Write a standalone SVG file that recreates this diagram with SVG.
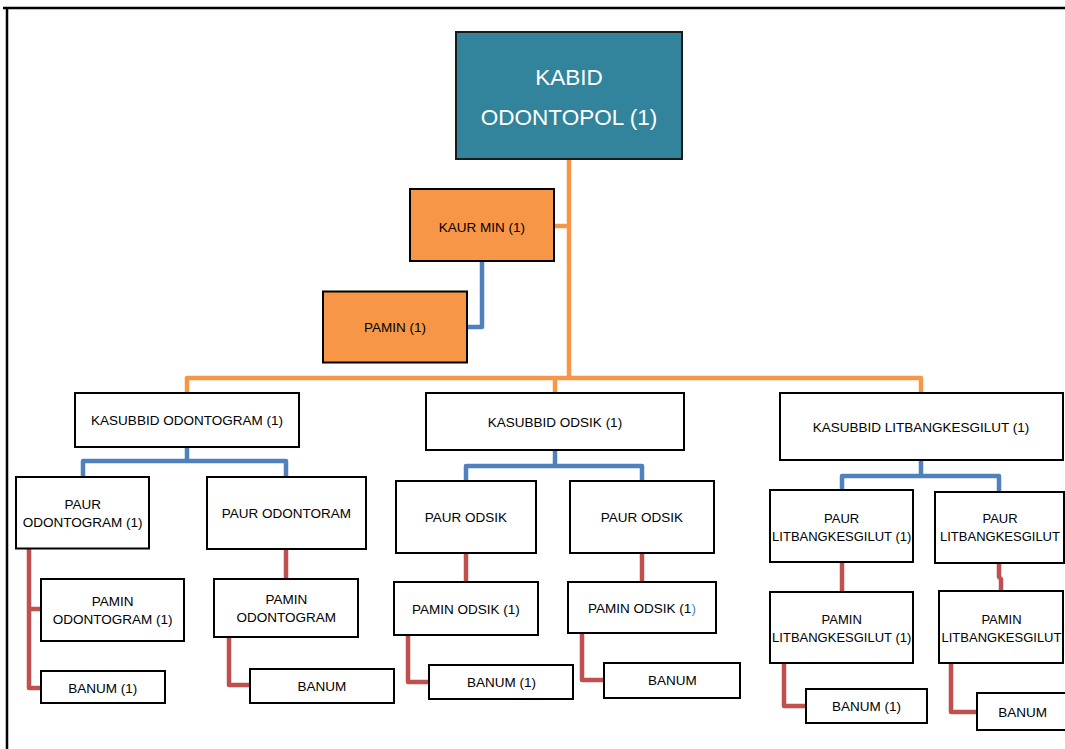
<svg xmlns="http://www.w3.org/2000/svg" width="1065" height="749" viewBox="0 0 1065 749">
<style>
.box{fill:#fff;stroke:#000;stroke-width:2}
.org{fill:#F79646;stroke:#000;stroke-width:2}
.teal{fill:#31849B;stroke:#1a1a1a;stroke-width:2}
text{font-family:"Liberation Sans",Arial,sans-serif;font-size:13.5px;fill:#000;text-anchor:middle}
.big{font-size:22.5px;fill:#fff}
.sm{font-size:13px}
.c{fill:none;stroke-width:4.5;stroke-linejoin:round;stroke-linecap:butt}
.o{stroke:#F79646}
.b{stroke:#4F81BD}
.r{stroke:#C0504D}
</style>
<rect width="1065" height="749" fill="#fff"/>
<g id="frame"><path d="M3,8 H1065 M7,8 V749" fill="none" stroke="#000" stroke-width="2.5"/></g>
<g id="connectors">
<path class="c o" d="M569,159 V378"/>
<path class="c o" d="M554,226 H569"/>
<path class="c o" d="M187,393 V378 H921 V393"/>
<path class="c o" d="M555,378 V393"/>
<path class="c b" d="M482,261 V327 H467"/>
<path class="c b" d="M187,447 V461"/>
<path class="c b" d="M83,477 V461 H286 V477"/>
<path class="c b" d="M555,450 V466"/>
<path class="c b" d="M466,481 V466 H642 V481"/>
<path class="c b" d="M921,460 V476"/>
<path class="c b" d="M842,490 V476 H999 V492"/>
<path class="c r" d="M41,609 H29 V548 M29,609 V688 H41"/>
<path class="c r" d="M286,549 V579"/>
<path class="c r" d="M229,637 V685 H250"/>
<path class="c r" d="M466,553 V582"/>
<path class="c r" d="M408,635 V682 H429"/>
<path class="c r" d="M642,553 V582"/>
<path class="c r" d="M582,633 V680 H604"/>
<path class="c r" d="M842,562 V592"/>
<path class="c r" d="M999,563 V577 L1001,579 V591"/>
<path class="c r" d="M784,663 V706 H806"/>
<path class="c r" d="M951,663 V712 H977"/>
</g>
<g id="kabid"><rect class="teal" x="456" y="32" width="226" height="127"/><text class="big" x="569" y="85">KABID</text><text class="big" x="569" y="124.7">ODONTOPOL (1)</text></g>
<g id="kaurmin"><rect class="org" x="410" y="189" width="144" height="72"/><text x="482" y="231.5">KAUR MIN (1)</text></g>
<g id="pamin"><rect class="org" x="323" y="291.5" width="144" height="71"/><text x="395" y="331.8">PAMIN (1)</text></g>
<g id="kasubbid-odontogram"><rect class="box" x="75" y="393" width="224" height="54"/><text x="187" y="424.8">KASUBBID ODONTOGRAM (1)</text></g>
<g id="kasubbid-odsik"><rect class="box" x="426" y="393" width="258" height="57"/><text x="555" y="426.8">KASUBBID ODSIK (1)</text></g>
<g id="kasubbid-litbang"><rect class="box" x="780" y="393" width="283" height="67"/><text x="921" y="431.8">KASUBBID LITBANGKESGILUT (1)</text></g>
<g id="paur-odontogram-1"><rect class="box" x="16" y="477" width="133" height="71.5"/><text x="82.7" y="508.8">PAUR</text><text x="82.7" y="526.5">ODONTOGRAM (1)</text></g>
<g id="paur-odontoram"><rect class="box" x="207" y="477" width="159" height="72"/><text x="286.3" y="518.1">PAUR ODONTORAM</text></g>
<g id="pamin-odontogram-1"><rect class="box" x="41" y="579" width="143" height="62"/><text x="112.7" y="605.8">PAMIN</text><text x="112.7" y="623.8">ODONTOGRAM (1)</text></g>
<g id="banum-1a"><rect class="box" x="41" y="671" width="124" height="32"/><text x="102.8" y="692.8">BANUM (1)</text></g>
<g id="pamin-odontogram"><rect class="box" x="214" y="579" width="144" height="58"/><text x="286.3" y="604.1">PAMIN</text><text x="286.3" y="621.5">ODONTOGRAM</text></g>
<g id="banum-a"><rect class="box" x="250" y="669" width="144" height="34"/><text x="322" y="690.8">BANUM</text></g>
<g id="paur-odsik-1"><rect class="box" x="396" y="481" width="140" height="72"/><text x="465.8" y="521.5">PAUR ODSIK</text></g>
<g id="paur-odsik-2"><rect class="box" x="570" y="481" width="144" height="72"/><text x="641.8" y="521.5">PAUR ODSIK</text></g>
<g id="pamin-odsik-1"><rect class="box" x="394" y="582" width="144" height="53"/><text x="465.8" y="613.8">PAMIN ODSIK (1)</text></g>
<g id="banum-1b"><rect class="box" x="429" y="665" width="144" height="34"/><text x="501.5" y="687.1">BANUM (1)</text></g>
<g id="pamin-odsik-2"><rect class="box" x="568" y="582" width="148" height="51"/><text x="642" y="612.8">PAMIN ODSIK (1<tspan fill="#4F81BD">)</tspan></text></g>
<g id="banum-b"><rect class="box" x="604" y="663" width="136" height="35"/><text x="672.5" y="684.8">BANUM</text></g>
<g id="paur-litbang-1"><rect class="box" x="770" y="490" width="143" height="72"/><text class="sm" x="841.7" y="522.5">PAUR</text><text class="sm" x="841.7" y="540.5">LITBANGKESGILUT (1)</text></g>
<g id="paur-litbang"><rect class="box" x="935" y="492" width="129" height="71"/><text class="sm" x="1000" y="522.5">PAUR</text><text class="sm" x="1000" y="540.5">LITBANGKESGILUT</text></g>
<g id="pamin-litbang-1"><rect class="box" x="770" y="592" width="143" height="71"/><text class="sm" x="841.7" y="624.1">PAMIN</text><text class="sm" x="841.7" y="641.5">LITBANGKESGILUT (1)</text></g>
<g id="pamin-litbang"><rect class="box" x="939" y="591" width="124" height="72"/><text class="sm" x="1001.5" y="624.1">PAMIN</text><text class="sm" x="1001.5" y="641.5">LITBANGKESGILUT</text></g>
<g id="banum-1c"><rect class="box" x="806" y="689" width="121" height="34"/><text x="866.6" y="710.8">BANUM (1)</text></g>
<g id="banum-c"><rect class="box" x="977" y="693" width="95" height="37"/><text x="1022.7" y="716.5">BANUM</text></g>
</svg>
